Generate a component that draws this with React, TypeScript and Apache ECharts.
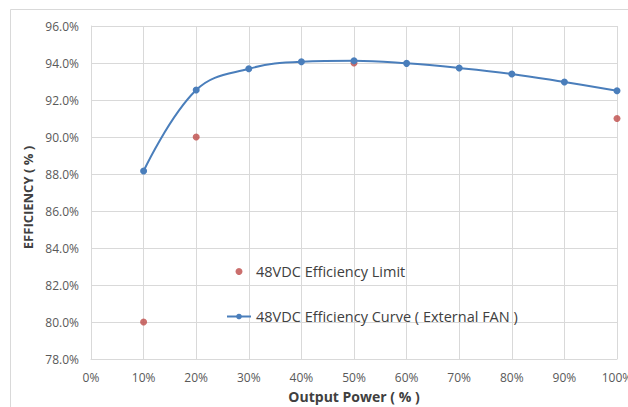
import React, { useEffect, useRef } from "react";
import * as echarts from "echarts";

const outputPower = [10, 20, 30, 40, 50, 60, 70, 80, 90, 100];
const curveValues = [88.16, 92.54, 93.69, 94.07, 94.12, 93.98, 93.73, 93.41, 92.97, 92.5];
const limitPower = [10, 20, 50, 100];
const limitValues = [80, 90, 94, 91];
const limitName = "48VDC Efficiency Limit";
const curveName = "48VDC Efficiency Curve ( External FAN )";
const xName = "Output Power ( % )";
const yName = "EFFICIENCY ( % )";

const FONT = "'Open Sans', 'Noto Sans', sans-serif";

export default function App() {
  const ref = useRef<HTMLDivElement>(null);
  useEffect(() => {
    document.body.style.margin = "0";
    const chart = echarts.init(ref.current!, undefined, { renderer: "svg" });
    chart.setOption({
      animation: false,
      backgroundColor: "#ffffff",
      textStyle: { fontFamily: FONT },
      graphic: [
        {
          type: "rect",
          shape: { x: 10.5, y: 9.5, width: 640, height: 420 },
          style: { fill: "none", stroke: "#d9d9d9", lineWidth: 1 },
          silent: true,
        },
      ],
      grid: { left: 91, top: 26, right: 11, bottom: 48, containLabel: false, outerBoundsMode: "none" },
      legend: {
        orient: "vertical",
        left: 226,
        top: 264,
        padding: 0,
        itemWidth: 24,
        itemHeight: 7,
        itemGap: 30,
        textStyle: { color: "#404040", fontSize: 14.5, fontFamily: FONT },
        data: [limitName, curveName],
      },
      xAxis: {
        type: "value",
        min: 0,
        max: 100,
        interval: 10,
        name: xName,
        nameLocation: "middle",
        nameGap: 30,
        nameTextStyle: { color: "#404040", fontSize: 14, fontWeight: "bold", fontFamily: FONT },
        axisLine: { show: true, lineStyle: { color: "#d9d9d9" } },
        axisTick: { show: false },
        axisLabel: { color: "#595959", fontSize: 12, margin: 12, formatter: (v: number) => v + "%" },
        splitLine: { show: true, lineStyle: { color: "#d9d9d9" } },
      },
      yAxis: {
        type: "value",
        min: 78,
        max: 96,
        interval: 2,
        name: yName,
        nameLocation: "middle",
        nameGap: 54,
        nameTextStyle: { color: "#404040", fontSize: 13, fontWeight: "bold", fontFamily: FONT, padding: [0, 10, 0, 0] },
        axisLine: { show: true, lineStyle: { color: "#d9d9d9" } },
        axisTick: { show: false },
        axisLabel: { color: "#595959", fontSize: 12, margin: 12, formatter: (v: number) => v.toFixed(1) + "%" },
        splitLine: { show: true, lineStyle: { color: "#d9d9d9" } },
      },
      series: [
        {
          name: limitName,
          type: "scatter",
          symbol: "circle",
          symbolSize: 7,
          itemStyle: { color: "#be4b48" },
          data: limitPower.map((p, i) => [p, limitValues[i]]),
        },
        {
          name: curveName,
          type: "line",
          smooth: 0.4,
          symbol: "circle",
          symbolSize: 7,
          lineStyle: { color: "#4a7ebb", width: 2 },
          itemStyle: { color: "#4a7ebb" },
          data: outputPower.map((p, i) => [p, curveValues[i]]),
        },
      ],
    });
    return () => chart.dispose();
  }, []);
  return <div ref={ref} style={{ width: 628, height: 407 }} />;
}
